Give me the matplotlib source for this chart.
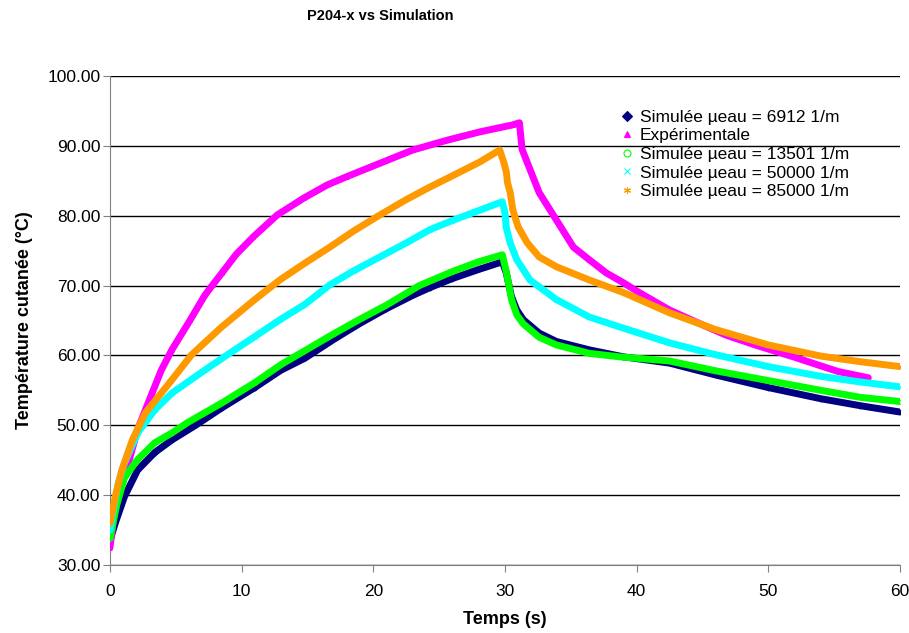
# -*- coding: utf-8 -*-

import matplotlib.pyplot as plt
import matplotlib.ticker as mticker

plt.rcParams['font.family'] = ['Liberation Sans', 'DejaVu Sans']

# Simulée µeau = 6912 1/m
t_6912 = [0, 0.4, 1.1, 2.1, 3.4, 4.7, 6.5, 8.5, 11, 13, 14.8, 17, 19, 21, 23, 24.3, 26, 28, 29.8,
          30.1, 30.5, 30.9, 31.4, 32.6, 33.9, 36.4, 39, 42.5, 46, 50, 54, 57, 60]
v_6912 = [33.5, 36, 39.8, 43.6, 46.1, 47.9, 50, 52.5, 55.4, 57.9, 59.6, 62.3, 64.6, 66.7, 68.6, 69.7, 71, 72.3, 73.4,
          71.8, 68.4, 66.5, 65.1, 63.2, 62.0, 60.8, 59.8, 58.9, 57.2, 55.4, 53.8, 52.8, 51.9]

# Expérimentale
t_exp = [0, 0.4, 1.4, 2.1, 2.9, 3.9, 4.7, 6.1, 7.2, 7.8, 8.5, 9.6, 10.9, 12.7, 14.7, 16.5, 18, 20.5, 23, 25.6, 28.1, 30.6,
         31.1, 31.3, 32.6, 33.9, 35.2, 36.4, 37.7, 39, 40.2, 42.5, 44.5, 46.8, 49, 51.9, 54, 55.3, 57.6]
v_exp = [32.5, 38.6, 44.6, 49.4, 53.2, 57.9, 60.8, 65.1, 68.6, 70.1, 71.8, 74.5, 77, 80.1, 82.5, 84.4, 85.6, 87.5, 89.4, 90.8, 92, 93.0,
         93.3, 89.5, 83.3, 79.4, 75.5, 73.7, 71.8, 70.4, 69, 66.5, 64.8, 62.9, 61.5, 59.8, 58.5, 57.7, 56.8]

# Simulée µeau = 13501 1/m
t_13501 = [0, 0.5, 1.1, 2.1, 3.4, 4.7, 5.9, 8.5, 11, 13, 15, 17, 19, 21, 23.5, 26, 28, 29.8,
           30.1, 30.5, 30.9, 31.4, 32.6, 33.9, 36.4, 38.7, 42.5, 46, 50, 54, 57, 60]
v_13501 = [33.8, 38.5, 42.5, 45.1, 47.5, 48.9, 50.4, 53.2, 56.1, 58.7, 60.9, 63.1, 65.2, 67.2, 70, 72, 73.4, 74.4,
           72, 68, 65.8, 64.5, 62.6, 61.5, 60.3, 59.8, 59.2, 57.8, 56.4, 55, 54, 53.4]

# Simulée µeau = 50000 1/m
t_50000 = [0, 0.6, 1.1, 2.1, 3.4, 4.7, 7.2, 9, 11, 12.9, 14.8, 16.7, 18.5, 20.5, 22.5, 24.3, 26, 28.1, 29.8,
           30, 30.1, 30.4, 30.9, 31.9, 33.9, 36.4, 39, 42.5, 46, 50, 54, 57, 60]
v_50000 = [35, 41.5, 44.6, 48.9, 52.2, 54.6, 57.9, 60.2, 62.7, 65.1, 67.3, 70.1, 72.1, 74.1, 76.1, 78, 79.3, 80.8, 82,
           80.4, 78.3, 76.1, 73.7, 70.8, 68, 65.5, 63.9, 61.8, 60.1, 58.4, 57, 56.2, 55.5]

# Simulée µeau = 85000 1/m
t_85000 = [0, 0.4, 0.9, 1.7, 2.7, 4.7, 6.2, 8.5, 11, 12.9, 14.8, 16.7, 18.5, 20.5, 22.5, 24.3, 26, 28.1, 29.6,
           29.9, 30.1, 30.2, 30.4, 30.6, 31.0, 31.7, 32.6, 33.9, 36.4, 39, 42.5, 46, 50, 54, 57, 60]
v_85000 = [36, 39.8, 43.6, 47.9, 51.8, 56.5, 60.1, 64.1, 68, 70.8, 73.2, 75.5, 77.8, 80.1, 82.3, 84.1, 85.7, 87.7, 89.4,
           87.7, 86.3, 84.7, 83.3, 80.8, 78.4, 76.1, 74.1, 72.7, 70.8, 69, 66.1, 63.7, 61.5, 59.9, 59.1, 58.4]

series = [
    (t_6912, v_6912, '#000080', 'D', 'Simulée µeau = 6912 1/m', True),
    (t_exp, v_exp, '#FF00FF', '^', 'Expérimentale', True),
    (t_13501, v_13501, '#00FF00', 'o', 'Simulée µeau = 13501 1/m', False),
    (t_50000, v_50000, '#00FFFF', 'x', 'Simulée µeau = 50000 1/m', True),
    (t_85000, v_85000, '#FF9900', (6, 2, 0), 'Simulée µeau = 85000 1/m', True),
]

fig = plt.figure(figsize=(9.09, 6.33), dpi=100)
ax = fig.add_axes([0.121, 0.1074, 0.869, 0.7726])

handles = []
for i, (t, v, c, m, lab, filled) in enumerate(series):
    ax.plot(t, v, color=c, lw=5, solid_capstyle='round', solid_joinstyle='round', zorder=3 + i)
    h, = ax.plot(t, v, ls='none', marker=m, color=c, ms=2.5,
                 mfc=c if filled else 'none', mec=c, mew=0.8, label=lab, zorder=3 + i)
    handles.append(h)

ax.set_xlim(0, 60)
ax.set_ylim(30, 100)
ax.set_xticks(range(0, 61, 10))
ax.set_yticks(range(30, 101, 10))
ax.yaxis.set_major_formatter(mticker.FormatStrFormatter('%.2f'))
ax.tick_params(axis='both', labelsize=12.5, direction='out', length=5, color='#808080')
ax.tick_params(axis='x', pad=9)
ax.tick_params(axis='y', pad=2)
ax.yaxis.grid(True, color='black', lw=1)
ax.set_axisbelow(True)
for s in ['top', 'right']:
    ax.spines[s].set_visible(False)
for s in ['left', 'bottom']:
    ax.spines[s].set_color('#808080')

ax.set_xlabel('Temps (s)', fontsize=13, fontweight='bold', labelpad=8)
ax.set_ylabel('Température cutanée (°C)', fontsize=13, fontweight='bold', labelpad=10)
fig.suptitle('P204-x vs Simulation', x=0.418, y=0.985, fontsize=10.5, fontweight='bold')

ax.legend(handles=handles, loc='upper left', bbox_to_anchor=(0.676, 0.838),
          bbox_transform=fig.transFigure, frameon=False, fontsize=12.5, markerscale=2,
          handlelength=0.6, handletextpad=0.45, labelspacing=0.2, borderaxespad=0)

fig.savefig('out.png', dpi=100)
